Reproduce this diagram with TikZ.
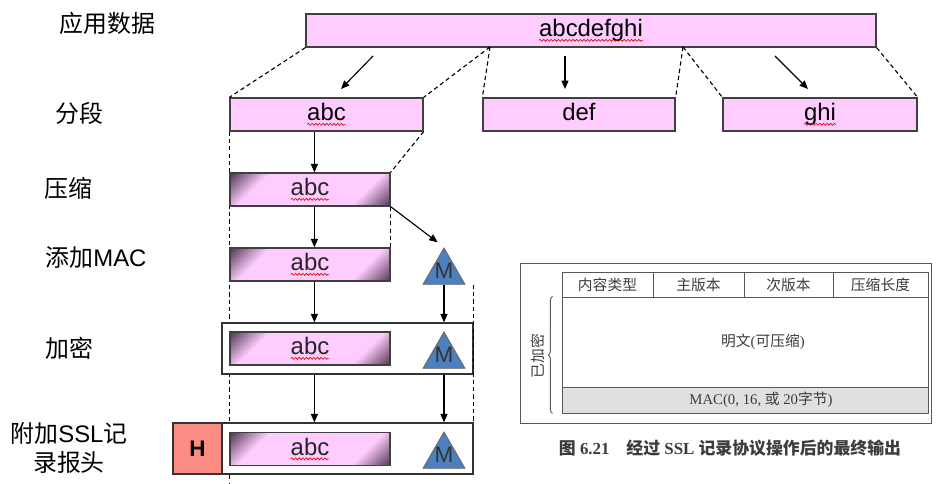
\documentclass[tikz,border=0pt]{standalone}
\usepackage{fontspec}
\setmainfont{Liberation Sans}
\newfontfamily\cjk{Noto Sans CJK SC}
\newfontfamily\scanserif{Liberation Serif}
\usepackage{xcolor}
\usepackage{tikz}
\definecolor{segpink}{RGB}{255,204,255}
\definecolor{shadedark}{RGB}{85,60,85}
\definecolor{macblue}{RGB}{76,128,190}
\definecolor{hsalmon}{RGB}{250,140,132}
\definecolor{scangray}{RGB}{60,60,60}
\usetikzlibrary{arrows.meta,positioning,shapes.geometric,decorations.pathreplacing,decorations.pathmorphing}
\pgfdeclarehorizontalshading{abcshade}{100bp}{color(0bp)=(shadedark); color(15bp)=(shadedark); color(29bp)=(segpink); color(71bp)=(segpink); color(85bp)=(shadedark); color(100bp)=(shadedark)}
% red spell-check wave under a box text
\newcommand{\squig}[2]{\draw[spell] ([xshift=-#2, yshift=-2.5pt]#1.base) -- ([xshift=#2, yshift=-2.5pt]#1.base);}

\begin{document}
\begin{tikzpicture}[
  lbl/.style={font=\cjk\fontsize{17}{20.6}\selectfont, align=center},
  segbox/.style={draw=black!75, line width=0.9pt, fill=segpink, minimum height=0.825cm, inner sep=0pt, text height=12.5pt, text depth=3.5pt, font=\fontsize{17}{20}\selectfont},
  abcbox/.style={draw=black!75, line width=0.9pt, shade, shading=abcshade, shading angle=-45, minimum width=4cm, minimum height=0.825cm, inner sep=0pt, text height=12.5pt, text depth=3.5pt, text=black!85, font=\fontsize{17}{20}\selectfont},
  outbox/.style={draw=black!80, line width=0.9pt, fill=white, minimum width=6.275cm, minimum height=1.275cm},
  mtri/.style={regular polygon, regular polygon sides=3, draw=black!60, line width=0.6pt, fill=macblue, minimum size=1.21cm, inner sep=0pt, label={[font=\fontsize{16}{18}\selectfont, text=black!80, yshift=1pt]center:M}},
  arr/.style={-{Triangle[length=6pt,width=5pt]}, line width=0.8pt},
  dashline/.style={dash pattern=on 3pt off 2.2pt, line width=0.8pt},
  spell/.style={red!85!black, line width=0.45pt, decorate, decoration={snake, amplitude=0.7pt, segment length=2.6pt}},
  scanline/.style={draw=black!65, line width=0.7pt},
  scantext/.style={text=scangray, font=\scanserif\fontsize{10.5}{12}\selectfont}
]
  \useasboundingbox (0,0) rectangle (23.4,12.1);

  %% Step labels
  \node[lbl] (l-app) at (2.6875,11.525) {应用数据};
  \node[lbl] (l-seg) at (1.975,9.275) {分段};
  \node[lbl] (l-cmp) at (1.7,7.4) {压缩};
  \node[lbl] (l-mac) at (2.4,5.65) {添加{\rmfamily MAC}};
  \node[lbl] (l-enc) at (1.725,3.4) {加密};
  \node[lbl] (l-hdr) at (1.725,0.9125) {附加{\rmfamily SSL}记\\录报头};

  %% Application data and fragments
  \node[segbox, minimum width=14.25cm] (app) at (14.775,11.3375) {abcdefghi};
  \node[segbox, minimum width=4.825cm] (segA) at (8.1625,9.2375) {abc};
  \node[segbox, minimum width=4.8cm] (segB) at (14.475,9.2375) {def};
  \node[segbox, minimum width=4.85cm] (segC) at (20.5,9.2375) {ghi};
  \squig{app}{1.3cm}
  \squig{segA}{0.48cm}
  \squig{segC}{0.4cm}

  \coordinate (t1) at (12.25,10.925);
  \coordinate (t2) at (17.075,10.925);
  \draw[dashline] (app.south west) -- (segA.north west);
  \draw[dashline] (t1) -- (segA.north east);
  \draw[dashline] (t1) -- (segB.north west);
  \draw[dashline] (t2) -- (segB.north east);
  \draw[dashline] (t2) -- (segC.north west);
  \draw[dashline] (app.south east) -- (segC.north east);

  \coordinate (a1s) at (9.325,10.7);
  \coordinate (a1e) at (8.525,9.875);
  \coordinate (a2s) at (14.125,10.7);
  \coordinate (a2e) at (14.125,9.875);
  \coordinate (a3s) at (19.375,10.7);
  \coordinate (a3e) at (20.2,9.875);
  \draw[arr] (a1s) -- (a1e);
  \draw[arr] (a2s) -- (a2e);
  \draw[arr] (a3s) -- (a3e);

  %% Record processing of the first fragment
  \coordinate (col) at (7.86,0);
  \coordinate (bot) at (5.75,0);
  \draw[dashline] (segA.south west) -- (segA.south west |- bot);

  \node[outbox] (enc) at (8.6875,3.3875) {};
  \node[outbox] (fin) at (8.6875,0.8875) {};
  \node[draw=black!80, line width=0.9pt, fill=hsalmon, minimum width=1.225cm, minimum height=1.275cm, font=\bfseries\fontsize{16}{18}\selectfont] (hdr) at (4.9375,0.8875) {H};

  \node[abcbox] (cmp) at (7.75,7.3625) {abc};
  \node[abcbox] (mac) at (7.75,5.4875) {abc};
  \node[abcbox] (encd) at (7.75,3.3875) {abc};
  \node[abcbox] (find) at (7.75,0.875) {abc};
  \squig{cmp}{0.48cm}
  \squig{mac}{0.48cm}
  \squig{encd}{0.48cm}
  \squig{find}{0.48cm}

  \node[mtri] (m1) at (11.1,5.295) {};
  \node[mtri] (m2) at (11.1,3.195) {};
  \node[mtri] (m3) at (11.1,0.695) {};

  \draw[dashline] (segA.south east) -- (cmp.north east);
  \draw[dashline] (cmp.south east) -- (mac.north east);
  \draw[dashline] (fin.north east |- m1.south) -- (fin.north east);

  \draw[arr] (segA.south -| col) -- (cmp.north -| col);
  \draw[arr] (cmp.south -| col) -- (mac.north -| col);
  \draw[arr, shorten >=0.2cm] (cmp.south east) -- (m1.corner 1);
  \draw[arr] (mac.south -| col) -- (enc.north -| col);
  \draw[arr] (m1.south) -- (enc.north -| m1.south);
  \draw[arr] (enc.south -| col) -- (fin.north -| col);
  \draw[arr] (enc.south -| m2.south) -- (fin.north -| m2.south);

  %% Final record format (figure 6.21)
  \node[scanline, minimum width=10.275cm, minimum height=4cm] (frame) at (18.1375,3.525) {};
  \node[scanline, scantext, minimum width=2.275cm, minimum height=0.625cm] (ctype) at (15.1875,4.9875) {\cjk 内容类型};
  \node[scanline, scantext, minimum width=2.275cm, minimum height=0.625cm] (vmaj) at (17.4625,4.9875) {\cjk 主版本};
  \node[scanline, scantext, minimum width=2.225cm, minimum height=0.625cm] (vmin) at (19.7125,4.9875) {\cjk 次版本};
  \node[scanline, scantext, minimum width=2.375cm, minimum height=0.625cm] (clen) at (22.0125,4.9875) {\cjk 压缩长度};
  \node[scanline, minimum width=9.15cm, minimum height=2.25cm, label={[scantext, xshift=0.45cm]center:{\cjk 明文}({\cjk 可压缩})}] (plain) at (18.625,3.55) {};
  \node[scanline, fill=black!12, minimum width=9.15cm, minimum height=0.65cm, label={[scantext, xshift=0.4cm]center:MAC(0, 16, {\cjk 或} 20{\cjk 字节})}] (macf) at (18.625,2.1) {};
  \draw[scanline, decorate, decoration={brace, amplitude=3pt}] ([xshift=-0.225cm]macf.south west) -- ([xshift=-0.225cm]plain.north west);
  \node[scantext, rotate=90] (encl) at (13.45,3.2) {\cjk 已加密};
  \node[scantext, font=\scanserif\bfseries\fontsize{12}{14}\selectfont] (cap) at (18.25,0.9) {{\cjk\bfseries 图} 6.21\quad{\cjk\bfseries 经过} SSL {\cjk\bfseries 记录协议操作后的最终输出}};
\end{tikzpicture}
\end{document}
